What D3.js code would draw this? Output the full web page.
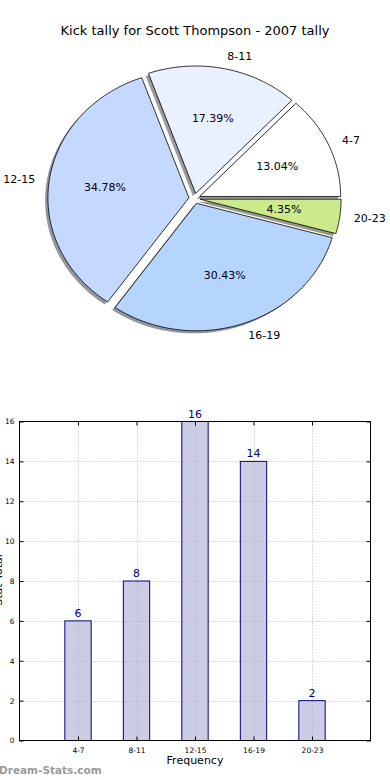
<!DOCTYPE html>
<html><head><meta charset="utf-8">
<script src="https://cdn.jsdelivr.net/npm/d3@7"></script>
<style>html,body{margin:0;padding:0;background:#fff;overflow:hidden}svg{display:block;font-family:"DejaVu Sans",sans-serif}</style>
</head><body>
<svg id="c" width="390" height="780"></svg>
<script>
const title = "Kick tally for Scott Thompson - 2007 tally";
const categories = ["4-7","8-11","12-15","16-19","20-23"];
const values = [6,8,16,14,2];
const sliceColors = ["#ffffff","#e9f1ff","#c5d8ff","#b5d5ff","#cdea8a"];
const yTicks = [0,2,4,6,8,10,12,14,16];
const xLabel = "Frequency";
const yLabel = "Stat Total";
const watermark = "Dream-Stats.com";

const svg = d3.select("#c");
svg.append("rect").attr("width",390).attr("height",780).attr("fill","#fff");

svg.append("text").attr("x",195).attr("y",35).attr("text-anchor","middle")
  .attr("font-size",13).attr("fill","#000").text(title);

// ---- Pie (elliptical, matplotlib-style) ----
const px = d3.scaleLinear().domain([-1,1]).range([194.5-141,194.5+141]);
const py = d3.scaleLinear().domain([-1,1]).range([198.5+127.5,198.5-127.5]);
const explode = 0.04;
const total = d3.sum(values);
const pie = d3.pie().sort(null).startAngle(0).endAngle(2*Math.PI);
const arcs = pie(values);

function wedgePts(a, ox, oy){
  const mid = (a.startAngle+a.endAngle)/2;
  const dx = explode*Math.cos(mid)+ox, dy = explode*Math.sin(mid)+oy;
  const n = Math.max(8, Math.ceil((a.endAngle-a.startAngle)*60));
  const pts = [[px(dx),py(dy)]];
  for(let i=0;i<=n;i++){
    const t = a.startAngle + (a.endAngle-a.startAngle)*i/n;
    pts.push([px(dx+Math.cos(t)), py(dy+Math.sin(t))]);
  }
  return pts;
}
const line = d3.line().curve(d3.curveLinearClosed);
const gPie = svg.append("g");
arcs.forEach((a,i)=>{
  const c = d3.rgb(sliceColors[i]);
  gPie.append("path").attr("d", line(wedgePts(a,-0.02,-0.02)))
    .attr("fill", d3.rgb(c.r*0.3,c.g*0.3,c.b*0.3)).attr("fill-opacity",0.55);
});
arcs.forEach((a,i)=>{
  gPie.append("path").attr("d", line(wedgePts(a,0,0)))
    .attr("fill", sliceColors[i]).attr("stroke","#000").attr("stroke-width",0.8)
    .attr("stroke-linejoin","round");
});
arcs.forEach((a,i)=>{
  const mid = (a.startAngle+a.endAngle)/2;
  const cx = Math.cos(mid), cy = Math.sin(mid);
  const lx = px((1.1+explode)*cx), ly = py((1.1+explode)*cy);
  gPie.append("text").attr("x",lx).attr("y",ly).attr("dy","0.35em")
    .attr("text-anchor", cx>0?"start":"end").attr("font-size",11).attr("fill","#000")
    .text(categories[i]);
  gPie.append("text").attr("x",px((0.6+explode)*cx)).attr("y",py((0.6+explode)*cy)).attr("dy","0.35em")
    .attr("text-anchor","middle").attr("font-size",11).attr("fill","#000")
    .text((values[i]/total*100).toFixed(2)+"%");
});

// ---- Bar chart ----
const L=19.5, R=370.5, T=421.5, B=740.5;
const x = d3.scaleLinear().domain([-1,categories.length]).range([L,R]);
const y = d3.scaleLinear().domain([0,16]).range([B,T]);
const barW = 0.45;
const gB = svg.append("g");
const grid = gB.append("g").attr("stroke","#b8b8b8").attr("stroke-width",1).attr("stroke-dasharray","1,2");
yTicks.forEach(t=>{ if(t>0 && t<16) grid.append("line").attr("x1",L).attr("x2",R).attr("y1",Math.round(y(t))+0.5).attr("y2",Math.round(y(t))+0.5); });
categories.forEach((c,i)=>{ grid.append("line").attr("x1",Math.round(x(i))+0.5).attr("x2",Math.round(x(i))+0.5).attr("y1",T).attr("y2",B); });

gB.selectAll("rect.bar").data(values).join("rect").attr("class","bar")
  .attr("x",(d,i)=>x(i-barW/2)).attr("width",x(barW)-x(0))
  .attr("y",d=>y(d)).attr("height",d=>y(0)-y(d))
  .attr("fill","#ccccE5").attr("stroke","#000080").attr("stroke-width",1);
const grid2 = gB.append("g").attr("stroke","#b0b0b0").attr("stroke-width",1).attr("stroke-dasharray","1,2");
categories.forEach((c,i)=>{ grid2.append("line").attr("x1",Math.round(x(i))+0.5).attr("x2",Math.round(x(i))+0.5).attr("y1",y(values[i])+1).attr("y2",B); });
yTicks.forEach(t=>{ if(t>0 && t<16) categories.forEach((c,i)=>{ if(values[i]>t) grid2.append("line").attr("x1",x(i-barW/2)+1).attr("x2",x(i+barW/2)-1).attr("y1",Math.round(y(t))+0.5).attr("y2",Math.round(y(t))+0.5); }); });

gB.selectAll("text.val").data(values).join("text").attr("class","val")
  .attr("x",(d,i)=>x(i)).attr("y",d=>y(d)-4).attr("text-anchor","middle")
  .attr("font-size",11).attr("fill","#000080").text(d=>d);

gB.append("rect").attr("x",L).attr("y",T).attr("width",R-L).attr("height",B-T)
  .attr("fill","none").attr("stroke","#000").attr("stroke-width",1);

const yAxis = d3.axisLeft(y).tickValues(yTicks).tickSize(-4).tickPadding(5);
const yA = gB.append("g").attr("transform",`translate(${L},0)`).call(yAxis);
const yAR = gB.append("g").attr("transform",`translate(${R},0)`).call(d3.axisRight(y).tickValues(yTicks).tickSize(-4).tickFormat(""));
const xAxis = d3.axisBottom(x).tickValues(d3.range(categories.length)).tickFormat(i=>categories[i]).tickSize(-4).tickPadding(7);
const xA = gB.append("g").attr("transform",`translate(0,${B})`).call(xAxis);
const xAT = gB.append("g").attr("transform",`translate(0,${T})`).call(d3.axisTop(x).tickValues(d3.range(categories.length)).tickSize(-4).tickFormat(""));
[yA,yAR,xA,xAT].forEach(g=>{ g.select(".domain").remove(); g.selectAll("line").attr("stroke","#000");
  g.selectAll("text").attr("font-size",7.5).attr("fill","#000").attr("font-family","DejaVu Sans"); });

svg.append("text").attr("x",x(2)).attr("y",764).attr("text-anchor","middle")
  .attr("font-size",11).attr("fill","#000").text(xLabel);
svg.append("text").attr("transform","translate(2,580) rotate(-90)").attr("text-anchor","middle")
  .attr("font-size",11).attr("fill","#000").text(yLabel);
svg.append("text").attr("x",-1).attr("y",774).attr("font-size",10.5).attr("font-weight","bold")
  .attr("fill","#9a9a9a").text(watermark);
</script>
</body></html>
